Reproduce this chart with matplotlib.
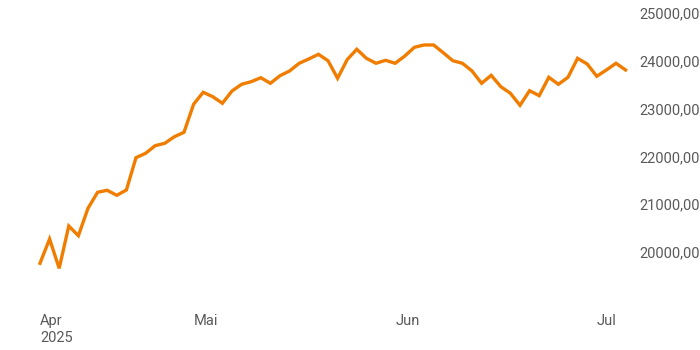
import matplotlib

matplotlib.use("Agg")
import matplotlib.pyplot as plt
import numpy as np
import pandas as pd
from matplotlib.ticker import FixedLocator, FuncFormatter

plt.rcParams["font.family"] = ["Roboto", "DejaVu Sans"]

# trading days (weekends and exchange holidays removed), Apr 7 - Jul 4 2025
holidays = ["2025-04-18", "2025-04-21", "2025-05-01"]
dates = pd.bdate_range("2025-04-07", "2025-07-04", freq="C", holidays=holidays)

close = [
    19764, 20272, 19659, 20544, 20341, 20914, 21249, 21291, 21186, 21297,
    21973, 22065, 22224, 22274, 22412, 22504, 23090, 23341, 23249, 23111,
    23368, 23508, 23563, 23646, 23529, 23688, 23787, 23948, 24038, 24136,
    24002, 23634, 24025, 24241, 24052, 23948, 24010, 23948, 24100, 24282,
    24331, 24331, 24170, 24002, 23948, 23787, 23529, 23696, 23459, 23320,
    23069, 23375, 23270, 23655, 23508, 23655, 24052, 23933, 23676, 23808,
    23948, 23808,
]

month_names = {4: "Apr", 5: "Mai", 6: "Jun", 7: "Jul"}
y_ticks = [20000, 21000, 22000, 23000, 24000, 25000]

x = np.arange(len(close))

# first trading day of each month gets a label, the first one carries the year
tick_pos, tick_lab = [], []
prev = None
for i, d in enumerate(dates):
    if d.month != prev:
        lab = month_names[d.month]
        if prev is None:
            lab += f"\n{d.year}"
        tick_pos.append(i)
        tick_lab.append(lab)
        prev = d.month

fig = plt.figure(figsize=(7, 3.5), dpi=100)
ax = fig.add_axes([30 / 700, 50 / 350, 605 / 700, 295 / 350])

ax.plot(x, close, color="#F07D00", linewidth=2.4, solid_joinstyle="miter")

ax.set_xlim(-1.04, 61.98)
ax.set_ylim(18996, 25167)

ax.xaxis.set_major_locator(FixedLocator(tick_pos))
ax.set_xticklabels(tick_lab, ha="left", va="top", linespacing=1.25)
ax.yaxis.set_major_locator(FixedLocator(y_ticks))
ax.yaxis.set_major_formatter(FuncFormatter(lambda v, _: f"{v:.2f}".replace(".", ",")))
ax.yaxis.tick_right()

ax.tick_params(axis="both", length=0, labelsize=10.5, colors="#5a5a5a")
ax.tick_params(axis="x", pad=10)
ax.tick_params(axis="y", pad=3)
for s in ax.spines.values():
    s.set_visible(False)

fig.savefig("out.png", dpi=100)
